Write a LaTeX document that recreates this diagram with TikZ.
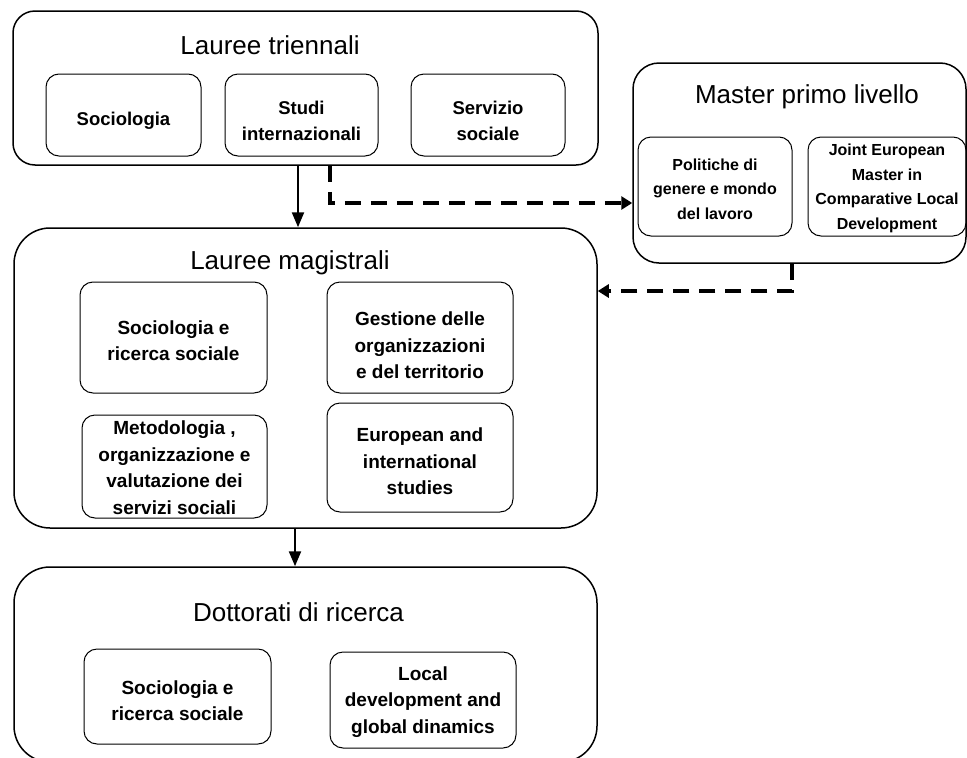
\documentclass[tikz,border=0pt]{standalone}
\usepackage{fontspec}
\setmainfont{Liberation Sans}
\usetikzlibrary{arrows.meta}
\begin{document}
\begin{tikzpicture}[x=1pt,y=-1pt,
  outerbox/.style={draw, line width=1.5pt, rounded corners=#1, inner sep=0pt},
  outerbox/.default=22pt,
  innerbox/.style={draw, line width=1pt, rounded corners=13pt, inner sep=0pt},
  toptext/.style={align=center, inner sep=0pt, font=\fontsize{18.5}{25.5}\selectfont\bfseries},
  boxtext/.style={align=center, inner sep=0pt, font=\fontsize{19}{26.5}\selectfont\bfseries},
  smalltext/.style={align=center, inner sep=0pt, font=\fontsize{16}{24.5}\selectfont\bfseries},
  titletext/.style={font=\fontsize{26}{30}\selectfont, inner sep=0pt},
  solidarrow/.style={line width=2.3pt, -{Triangle[length=15pt,width=12pt]}},
  dasharrow/.style={line width=3.8pt, dash pattern=on 16pt off 10pt, -{Triangle[length=11pt,width=13pt]}}
]
\useasboundingbox (0,0) rectangle (967,758);
% Lauree triennali
\node[outerbox, minimum width=585pt, minimum height=154pt] (T) at (305.5,88) {};
\node[titletext] (Tt) at (270,45) {Lauree triennali};
\node[innerbox, minimum width=155pt, minimum height=82pt] (T1) at (123.5,115) {};
\node[innerbox, minimum width=153pt, minimum height=82pt] (T2) at (301.5,115) {};
\node[innerbox, minimum width=154pt, minimum height=82pt] (T3) at (488,115) {};
\node[toptext] (T1t) at ([yshift=-6pt]T1.center) {Sociologia};
\node[toptext] (T2t) at ([yshift=-6pt]T2.center) {Studi\\internazionali};
\node[toptext] (T3t) at ([yshift=-6pt]T3.center) {Servizio\\sociale};
% Master primo livello
\node[outerbox=26pt, minimum width=333pt, minimum height=200pt] (M) at (799.5,163) {};
\node[titletext] (Mt) at (807,97) {Master primo livello};
\node[innerbox, minimum width=154pt, minimum height=99pt] (M1) at (715,186.5) {};
\node[innerbox, minimum width=158pt, minimum height=99pt] (M2) at (887,186.5) {};
\node[smalltext] (M1t) at ([yshift=-2.5pt]M1.center) {Politiche di\\genere e mondo\\del lavoro};
\node[smalltext] (M2t) at ([yshift=-2pt]M2.center) {Joint European\\Master in\\Comparative Local\\Development};
% Lauree magistrali
\node[outerbox=36pt, minimum width=583pt, minimum height=300pt] (LM) at (305.5,378) {};
\node[titletext] (LMt) at (290,263) {Lauree magistrali};
\node[innerbox, minimum width=187pt, minimum height=111pt] (L1) at (173.5,337.5) {};
\node[innerbox, minimum width=186pt, minimum height=111pt] (L2) at (420,337.5) {};
\node[innerbox, minimum width=185pt, minimum height=103pt] (L3) at (174.5,466.5) {};
\node[innerbox, minimum width=186pt, minimum height=109pt] (L4) at (420,457.5) {};
\node[boxtext] (L1t) at ([yshift=-3pt]L1.center) {Sociologia e\\ricerca sociale};
\node[boxtext] (L2t) at ([yshift=-8pt]L2.center) {Gestione delle\\organizzazioni\\e del territorio};
\node[boxtext] (L3t) at ([yshift=-1pt]L3.center) {Metodologia ,\\organizzazione e\\valutazione dei\\servizi sociali};
\node[boxtext] (L4t) at ([yshift=-4pt]L4.center) {European and\\international\\studies};
% Dottorati di ricerca
\node[outerbox=36pt, minimum width=583pt, minimum height=195pt] (D) at (305.5,664.5) {};
\node[titletext] (Dt) at (298.5,612) {Dottorati di ricerca};
\node[innerbox, minimum width=187pt, minimum height=95pt] (D1) at (177.5,696.5) {};
\node[innerbox, minimum width=186pt, minimum height=96pt] (D2) at (423,700) {};
\node[boxtext] (D1t) at ([yshift=-4pt]D1.center) {Sociologia e\\ricerca sociale};
\node[boxtext] (D2t) at ([yshift=-2pt]D2.center) {Local\\development and\\global dinamics};
% connectors
\coordinate (a1) at (298,0);
\coordinate (a2) at (295,0);
\coordinate (d1) at (330,203);
\coordinate (d2) at (792,291);
\draw[solidarrow] (T.south -| a1) -- (LM.north -| a1);
\draw[solidarrow] (LM.south -| a2) -- (D.north -| a2);
\draw[dasharrow] (T.south -| d1) |- (M.west |- d1);
\draw[dasharrow] (M.south -| d2) |- (LM.east |- d2);
\end{tikzpicture}
\end{document}
